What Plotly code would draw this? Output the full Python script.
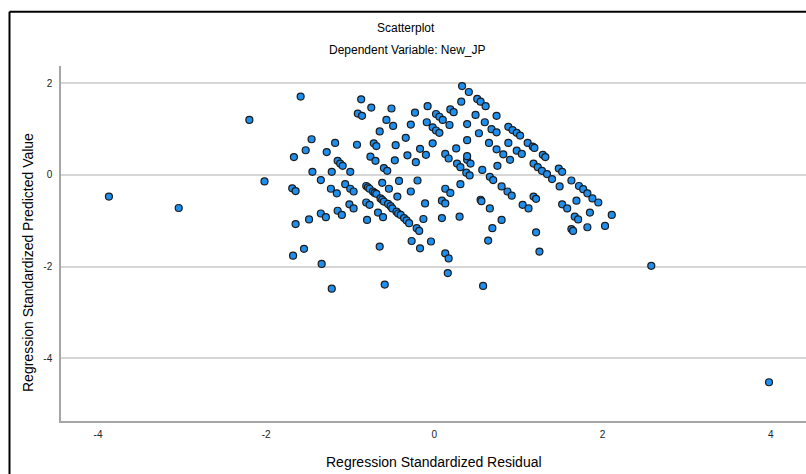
import plotly.graph_objects as go

# Regression Standardized Residual (x) and Regression Standardized Predicted Value (y)
residual = [
    -3.87, -3.04, -2.20, -2.02, 2.58, 3.98,
    -1.59, -0.87, -0.75, -0.91, -0.86, -0.51, -0.57, -0.49, -0.65, -0.23,
    -0.08, 0.02, 0.06, 0.10, -0.09, -0.28, -0.02, 0.02, 0.06, -0.34,
    -0.02, -0.17, -0.46, -0.72, -0.69, -0.92, -1.18, -1.28, -1.46, -1.53,
    -1.67, -0.76, -0.70, -0.47, -0.32, -0.22, -0.10, 0.13, 0.17, -1.15,
    -1.12, -1.09, -1.00, -1.22, -1.45, -0.60, -0.56, -1.69, -1.65, -1.35,
    -1.23, -1.16, -1.06, -1.00, -0.96, -0.62, -0.42, -0.20, -0.28, -0.54,
    -0.44,
    -0.81, -0.79, -0.77, -0.73, -0.71, -0.69, -0.64, -0.62, -0.60, -0.55,
    -0.52, -0.50, -0.45, -0.43, -0.40, -0.36, -0.33, -0.30,
    -0.11, 0.13, 0.09, 0.13, -1.01, -0.96, -1.15, -1.10,
    -0.81, -0.77, -0.80, -0.67, -0.61, -1.35, -1.29, -1.49, -1.65, -0.21,
    -0.18, -0.13, 0.09, -0.27, -0.17, -0.04, -0.65, -1.55, -1.68, -1.34,
    -1.22, -0.59, 0.13, 0.17, 0.16,
    0.33, 0.41, 0.51, 0.55, 0.61, 0.32, 0.74, 0.49, 0.60, 0.68,
    0.74, 0.53, 0.39, 0.39, 0.19, 0.23, 0.18, 0.88, 0.93, 0.98,
    1.02, 0.88, 1.11, 1.17, 1.19, 0.74, 0.82, 0.65, 0.98, 1.04,
    0.90, 0.75, 0.57, 1.29, 1.32, 1.18, 1.23, 1.28, 1.34, 1.40,
    1.48, 1.52, 1.63, 1.72, 1.77, 1.82, 1.88, 1.95, 1.49, 1.69,
    1.52, 1.58, 1.18, 1.21, 1.05, 1.12, 0.80, 0.87, 0.92, 0.66,
    0.70, 0.39, 0.43, 0.38, 0.42, 0.27, 0.31, 0.39, 0.26, 0.31,
    0.19, 0.55, 0.66,
    1.67, 1.71, 1.85, 2.11, 2.03, 1.82, 1.63, 1.65, 1.21, 1.25,
    0.30, 0.80, 0.69, 0.64, 0.58, 0.56,
]
predicted = [
    -0.47, -0.72, 1.20, -0.14, -1.98, -4.52,
    1.71, 1.65, 1.47, 1.34, 1.29, 1.45, 1.20, 1.07, 0.95, 1.36,
    1.50, 1.33, 1.27, 1.20, 1.15, 1.10, 1.04, 0.97, 0.92, 0.81,
    0.69, 0.57, 0.65, 0.69, 0.63, 0.66, 0.70, 0.50, 0.78, 0.54,
    0.39, 0.40, 0.31, 0.32, 0.43, 0.28, 0.44, 0.46, 0.36, 0.31,
    0.25, 0.20, 0.07, 0.07, 0.07, 0.15, 0.09, -0.29, -0.35, -0.11,
    -0.30, -0.40, -0.20, -0.30, -0.36, -0.17, -0.13, -0.12, -0.36, -0.30,
    -0.47,
    -0.24, -0.27, -0.30, -0.36, -0.39, -0.41, -0.51, -0.54, -0.58, -0.63,
    -0.68, -0.73, -0.80, -0.84, -0.87, -0.94, -0.99, -1.05,
    -0.62, -0.30, -0.56, -0.62, -0.64, -0.73, -0.78, -0.87,
    -0.60, -0.65, -0.98, -0.82, -0.92, -0.84, -0.92, -0.97, -1.07, -1.16,
    -1.22, -0.96, -0.94, -1.44, -1.60, -1.45, -1.56, -1.61, -1.76, -1.94,
    -2.48, -2.39, -1.71, -1.82, -2.14,
    1.94, 1.81, 1.66, 1.60, 1.50, 1.60, 1.29, 1.31, 1.15, 1.00,
    0.93, 0.91, 1.11, 0.76, 1.43, 1.37, 1.09, 1.05, 0.98, 0.92,
    0.86, 0.70, 0.70, 0.62, 0.59, 0.56, 0.45, 0.70, 0.53, 0.46,
    0.33, 0.20, 0.11, 0.44, 0.39, 0.25, 0.17, 0.09, 0.02, -0.09,
    0.14, 0.07, -0.12, -0.24, -0.31, -0.40, -0.51, -0.60, -0.25, -0.56,
    -0.64, -0.73, -0.47, -0.52, -0.65, -0.73, -0.25, -0.36, -0.45, -0.04,
    -0.11, 0.33, 0.25, 0.05, -0.01, 0.25, 0.17, 0.41, 0.58, -0.20,
    -0.39, -0.54, -0.73,
    -0.91, -0.97, -0.82, -0.87, -1.11, -1.14, -1.18, -1.22, -1.25, -1.67,
    -0.91, -0.98, -1.16, -1.43, -2.42, -0.57,
]

x_ticks = [-4, -2, 0, 2, 4]
y_ticks = [-4, -2, 0, 2]

W, H = 806, 474
L, R, T, B = 61, 0, 66, 53
PW, PH = W - L - R, H - T - B


def px(xp):
    return (xp - L) / PW


def py(yp):
    return (H - B - yp) / PH


font_family = "Liberation Sans, Arial, sans-serif"

fig = go.Figure()
fig.add_trace(go.Scatter(
    x=residual, y=predicted, mode="markers",
    marker=dict(size=7, color="#1e8fef", line=dict(color="#1b1b1b", width=1.2)),
    hoverinfo="x+y", showlegend=False,
))

fig.update_layout(
    width=W, height=H,
    margin=dict(l=L, r=R, t=T, b=B, pad=0),
    paper_bgcolor="white", plot_bgcolor="white",
    font=dict(family=font_family, color="#111"),
    xaxis=dict(
        range=[-4.44, 4.42], tickvals=x_ticks, ticktext=[str(v) for v in x_ticks],
        showgrid=False, zeroline=False, showline=True, linecolor="#a6a6a6", linewidth=2,
        ticks="", tickfont=dict(size=10, color="#222"), ticklabelstandoff=3,
    ),
    yaxis=dict(
        range=[-5.365, 2.377], tickvals=y_ticks, ticktext=[str(v) for v in y_ticks],
        showgrid=True, gridcolor="#d6d6d6", gridwidth=1.5, zeroline=False,
        showline=True, linecolor="#a6a6a6", linewidth=1.5,
        ticks="", tickfont=dict(size=10, color="#222"), ticklabelstandoff=5,
    ),
    shapes=[
        dict(type="line", xref="paper", yref="paper", x0=px(9.5), x1=px(9.5),
             y0=py(11.7), y1=py(490), line=dict(color="black", width=2)),
        dict(type="line", xref="paper", yref="paper", x0=px(9.5), x1=px(820),
             y0=py(11.7), y1=py(11.7), line=dict(color="black", width=2)),
    ],
    annotations=[
        dict(text="Scatterplot", xref="paper", yref="paper", x=px(406), y=py(28),
             xanchor="center", yanchor="middle", showarrow=False,
             font=dict(size=12, color="#000")),
        dict(text="Dependent Variable: New_JP", xref="paper", yref="paper", x=px(407), y=py(50),
             xanchor="center", yanchor="middle", showarrow=False,
             font=dict(size=12, color="#000")),
        dict(text="Regression Standardized Residual", xref="paper", yref="paper",
             x=px(434), y=py(461.5), xanchor="center", yanchor="middle", showarrow=False,
             font=dict(size=14, color="#000")),
        dict(text="Regression Standardized Predicted Value", xref="paper", yref="paper",
             x=px(27.5), y=py(262.5), xanchor="center", yanchor="middle", showarrow=False,
             textangle=-90, font=dict(size=14, color="#000")),
    ],
)

fig.write_html("out.html")
